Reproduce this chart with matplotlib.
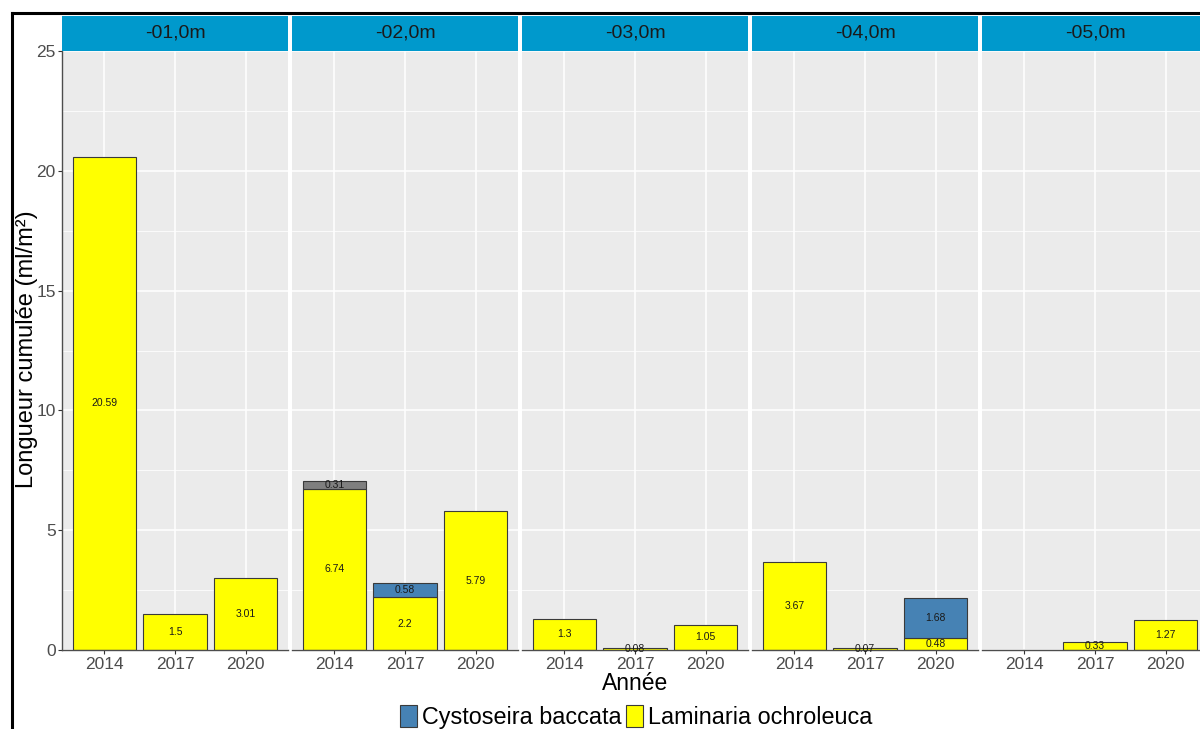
import numpy as np
import matplotlib
matplotlib.use('Agg')
import matplotlib.pyplot as plt
from matplotlib.patches import Patch
from matplotlib.lines import Line2D

plt.rcParams['font.family'] = ['Liberation Sans', 'DejaVu Sans']

depths = ['-01,0m', '-02,0m', '-03,0m', '-04,0m', '-05,0m']
years = ['2014', '2017', '2020']

# longueur cumulee par profondeur / annee
laminaria = [[20.59, 1.5, 3.01],
             [6.74, 2.2, 5.79],
             [1.3, 0.08, 1.05],
             [3.67, 0.07, 0.48],
             [0, 0.33, 1.27]]
cystoseira = [[0, 0, 0],
              [0, 0.58, 0],
              [0, 0, 0],
              [0, 0, 1.68],
              [0, 0, 0]]
non_ident = [[0, 0, 0],
             [0.31, 0, 0],
             [0, 0, 0],
             [0, 0, 0],
             [0, 0, 0]]

col_lam = '#FFFF00'
col_cys = '#4682B4'
col_na = '#7F7F7F'
strip_col = '#0099CC'
panel_bg = '#EBEBEB'
grey_txt = '#4D4D4D'

W, H = 1200, 729
fig = plt.figure(figsize=(W / 100, H / 100), dpi=100)

x0s = [62, 292, 522, 752, 982]
pw = 226
top, bot = 51, 650
strip_top = 16

x = np.arange(1, len(years) + 1)
axes = []
for i, d in enumerate(depths):
    ax = fig.add_axes([x0s[i] / W, 1 - bot / H, pw / W, (bot - top) / H])
    ax.set_facecolor(panel_bg)
    ax.set_xlim(0.4, 3.6)
    ax.set_ylim(0, 25)
    ax.set_yticks(np.arange(0, 26, 5))
    ax.set_yticks(np.arange(2.5, 25, 5), minor=True)
    ax.grid(which='major', color='white', lw=1.1)
    ax.grid(which='minor', axis='y', color='white', lw=0.55)
    ax.set_axisbelow(True)
    ax.set_xticks(x)
    ax.set_xticklabels(years, fontsize=12.5, color=grey_txt)
    ax.tick_params(axis='x', length=3, width=0.8, color='#333333', pad=2)
    ax.tick_params(axis='y', which='minor', length=0)
    for s in ['top', 'right']:
        ax.spines[s].set_visible(False)
    ax.spines['bottom'].set_color('#4D4D4D')
    ax.spines['bottom'].set_linewidth(1)
    if i == 0:
        ax.spines['left'].set_color('#4D4D4D')
        ax.spines['left'].set_linewidth(1)
        ax.set_yticklabels([str(v) for v in range(0, 26, 5)], fontsize=12.5, color=grey_txt)
        ax.tick_params(axis='y', which='major', length=3, width=0.8, color='#333333', pad=1.5)
    else:
        ax.spines['left'].set_visible(False)
        ax.tick_params(axis='y', which='major', length=0, labelleft=False)

    lam = np.array(laminaria[i], dtype=float)
    cys = np.array(cystoseira[i], dtype=float)
    na = np.array(non_ident[i], dtype=float)
    # empilement : laminaria en bas, cystoseira puis NA au dessus
    for vals, base, col in [(lam, np.zeros(3), col_lam),
                            (cys, lam, col_cys),
                            (na, lam + cys, col_na)]:
        for j in range(3):
            if vals[j] <= 0:
                continue
            ax.bar(x[j], vals[j], bottom=base[j], width=0.9, color=col,
                   edgecolor='#3A3A3A', linewidth=0.8, zorder=2)
            ax.text(x[j], base[j] + vals[j] / 2, f'{vals[j]:g}', ha='center',
                    va='center', fontsize=7.5, color='#1A1A1A', zorder=3)

    # bandeau de facette
    sax = fig.add_axes([x0s[i] / W, 1 - top / H, pw / W, (top - strip_top) / H])
    sax.set_facecolor(strip_col)
    sax.set_xticks([])
    sax.set_yticks([])
    for s in sax.spines.values():
        s.set_visible(False)
    sax.text(0.5, 0.5, d, ha='center', va='center', fontsize=14,
             color='#1A1A1A', transform=sax.transAxes)
    axes.append(ax)

fig.text(27 / W, 1 - 349 / H, 'Longueur cumulée (ml/m²)', rotation=90,
         ha='center', va='center', fontsize=17)
fig.text(635 / W, 1 - 683 / H, 'Année', ha='center', va='center', fontsize=16.5)

handles = [Patch(facecolor=col_cys, edgecolor='#3A3A3A', lw=0.8),
           Patch(facecolor=col_lam, edgecolor='#3A3A3A', lw=0.8)]
fig.legend(handles, ['Cystoseira baccata', 'Laminaria ochroleuca'],
           loc='center', bbox_to_anchor=(636 / W, 1 - 717 / H), ncol=2,
           frameon=False, fontsize=16.8, handlelength=0.75, handleheight=1.1,
           handletextpad=0.2, columnspacing=0.2, borderpad=0)

# cadre noir (haut et gauche)
fig.add_artist(Line2D([11.5 / W, 11.5 / W], [0, 1 - 13 / H], color='black', lw=2.2,
                      transform=fig.transFigure))
fig.add_artist(Line2D([11.5 / W, 1], [1 - 13 / H, 1 - 13 / H], color='black', lw=2.2,
                      transform=fig.transFigure))

fig.savefig('out.png', dpi=100)
